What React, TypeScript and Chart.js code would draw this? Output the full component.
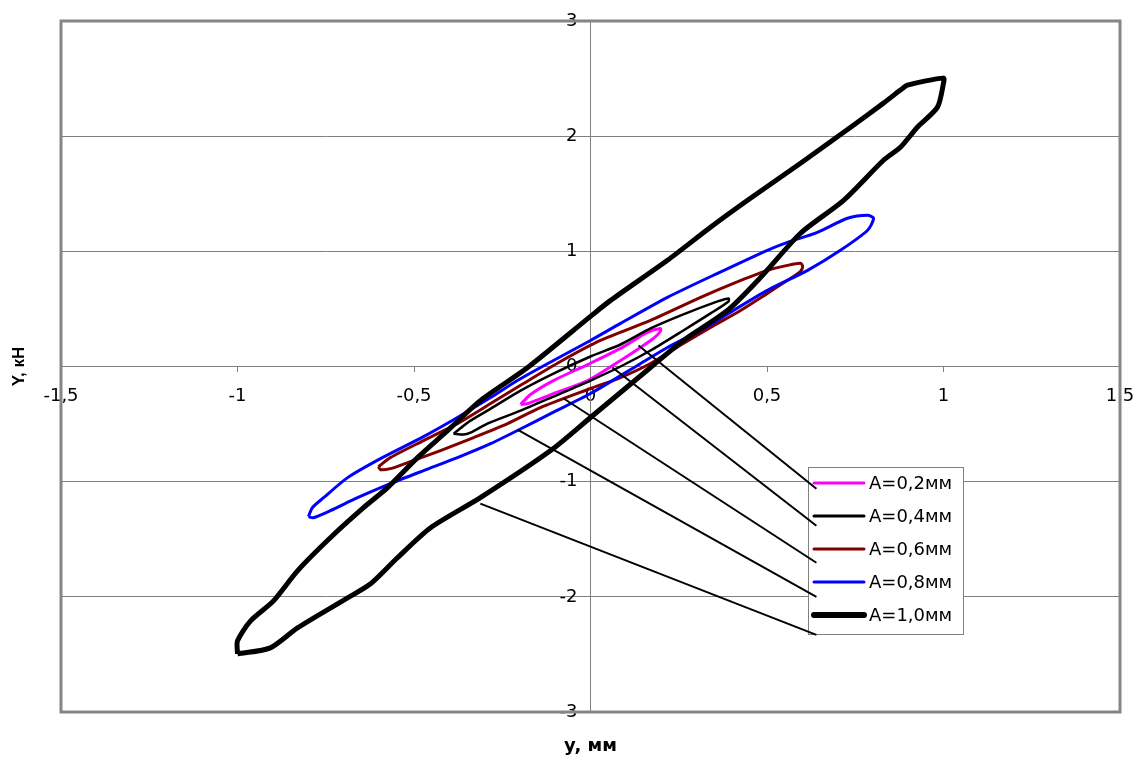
import React, { useEffect, useRef } from 'react';
import { Chart, registerables } from 'chart.js';

Chart.register(...registerables);

// ---------- data ----------
const seriesLabels = ['A=0,2мм', 'A=0,4мм', 'A=0,6мм', 'A=0,8мм', 'A=1,0мм'];
const seriesColors = ['#FF00FF', '#000000', '#800000', '#0000FF', '#000000'];
const seriesWidths = [3, 2.5, 3, 3, 5];

const a02X = [-0.198, -0.17, -0.105, -0.008, 0.085, 0.161, 0.198, 0.198, 0.178, 0.133, 0.085, -0.008, -0.105, -0.178, -0.198];
const a02Y = [-0.33, -0.243, -0.122, 0.017, 0.157, 0.296, 0.33, 0.304, 0.243, 0.148, 0.052, -0.122, -0.235, -0.322, -0.33];

const a04X = [-0.388, -0.34, -0.292, -0.198, -0.105, 0, 0.085, 0.17, 0.263, 0.36, 0.391, 0.391, 0.34, 0.263, 0.17, 0.085, 0, -0.105, -0.198, -0.292, -0.34, -0.36, -0.388];
const a04Y = [-0.583, -0.47, -0.383, -0.209, -0.061, 0.087, 0.191, 0.33, 0.452, 0.565, 0.591, 0.565, 0.461, 0.313, 0.139, 0, -0.122, -0.261, -0.383, -0.496, -0.574, -0.591, -0.583];

const a06X = [-0.601, -0.567, -0.473, -0.377, -0.283, -0.19, -0.085, 0.028, 0.17, 0.312, 0.405, 0.501, 0.558, 0.595, 0.601, 0.595, 0.558, 0.501, 0.425, 0.34, 0.263, 0.17, 0.085, 0, -0.142, -0.235, -0.331, -0.425, -0.518, -0.567, -0.595, -0.601];
const a06Y = [-0.87, -0.791, -0.643, -0.496, -0.322, -0.148, 0.043, 0.226, 0.4, 0.6, 0.722, 0.835, 0.878, 0.896, 0.87, 0.826, 0.748, 0.635, 0.487, 0.339, 0.2, 0.026, -0.096, -0.191, -0.357, -0.496, -0.617, -0.73, -0.835, -0.887, -0.896, -0.87];

const a08X = [-0.799, -0.788, -0.756, -0.688, -0.595, -0.473, -0.377, -0.283, -0.207, -0.105, 0, 0.085, 0.218, 0.36, 0.501, 0.558, 0.643, 0.728, 0.785, 0.802, 0.785, 0.708, 0.615, 0.501, 0.405, 0.312, 0.218, 0.142, 0, -0.113, -0.19, -0.283, -0.377, -0.473, -0.567, -0.66, -0.737, -0.785, -0.799];
const a08Y = [-1.304, -1.226, -1.139, -0.965, -0.8, -0.609, -0.443, -0.27, -0.122, 0.052, 0.226, 0.374, 0.6, 0.809, 1.009, 1.078, 1.165, 1.287, 1.313, 1.287, 1.183, 1.009, 0.835, 0.661, 0.487, 0.313, 0.165, 0.026, -0.235, -0.409, -0.53, -0.67, -0.791, -0.904, -1.017, -1.139, -1.252, -1.313, -1.304];

const a10X = [-1.0, -1.0, -0.963, -0.898, -0.83, -0.737, -0.643, -0.575, -0.49, -0.405, -0.312, -0.178, 0, 0.057, 0.218, 0.34, 0.445, 0.595, 0.737, 0.83, 0.878, 0.898, 1.0, 1.0, 0.983, 0.926, 0.878, 0.83, 0.717, 0.595, 0.482, 0.388, 0.263, 0.17, 0, -0.113, -0.312, -0.453, -0.547, -0.623, -0.688, -0.83, -0.907, -1.0];
const a10Y = [-2.496, -2.383, -2.209, -2.035, -1.774, -1.487, -1.226, -1.052, -0.791, -0.557, -0.296, -0.009, 0.435, 0.574, 0.922, 1.209, 1.443, 1.765, 2.078, 2.287, 2.4, 2.443, 2.504, 2.461, 2.252, 2.078, 1.904, 1.791, 1.443, 1.157, 0.774, 0.487, 0.226, -0.009, -0.443, -0.73, -1.139, -1.4, -1.661, -1.887, -2.009, -2.27, -2.443, -2.496];

const leaderFromX = [0.136, 0.062, -0.076, -0.207, -0.312];
const leaderFromY = [0.183, -0.009, -0.278, -0.548, -1.191];
const leaderToX = [0.64, 0.64, 0.64, 0.64, 0.64];
const leaderToY = [-1.061, -1.383, -1.704, -2.0, -2.33];

const xTickValues = [-1.5, -1, -0.5, 0, 0.5, 1, 1.5];
const xTickLabels = ['-1,5', '-1', '-0,5', '0', '0,5', '1', '1,5'];
const yTickValues = [-3, -2, -1, 0, 1, 2, 3];
const yTickLabels = ['-3', '-2', '-1', '0', '1', '2', '3'];

const xTitle = 'y, мм';
const yTitle = 'Y, кН';

// ---------- helpers ----------
const seriesX = [a02X, a04X, a06X, a08X, a10X];
const seriesY = [a02Y, a04Y, a06Y, a08Y, a10Y];

const toPoints = (xs: number[], ys: number[]) => xs.map((x, i) => ({ x, y: ys[i] }));

// Put the y axis (drawn by Chart.js) on the x = 0 line.
const yAxisAtZeroPlugin = {
  id: 'yAxisAtZero',
  afterLayout(chart: any) {
    const ys = chart.scales.y;
    const xs = chart.scales.x;
    const px = xs.getPixelForValue(0);
    ys.left = px - 80;
    ys.right = px;
    ys.width = 80;
  },
};

const decorPlugin = {
  id: 'decor',
  beforeDatasetsDraw(chart: any) {
    const { ctx, chartArea: a } = chart;
    ctx.save();
    // plot frame
    ctx.strokeStyle = '#868686';
    ctx.lineWidth = 3;
    ctx.strokeRect(a.left, a.top, a.right - a.left, a.bottom - a.top);
    // legend box
    const lx = a.left + 747;
    const ly = a.top + 446;
    const lw = 155;
    const lh = 167;
    ctx.fillStyle = '#ffffff';
    ctx.fillRect(lx, ly, lw, lh);
    ctx.strokeStyle = '#808080';
    ctx.lineWidth = 1;
    ctx.strokeRect(lx + 0.5, ly + 0.5, lw, lh);
    seriesLabels.forEach((lab, i) => {
      const cy = ly + 16 + i * 33;
      ctx.strokeStyle = seriesColors[i];
      ctx.lineWidth = i === 4 ? 6 : 3;
      ctx.lineCap = 'round';
      ctx.beginPath();
      ctx.moveTo(lx + 6, cy);
      ctx.lineTo(lx + 56, cy);
      ctx.stroke();
      ctx.fillStyle = '#000';
      ctx.font = '18px "DejaVu Sans"';
      ctx.textBaseline = 'middle';
      ctx.textAlign = 'left';
      ctx.fillText(lab, lx + 61, cy + 1);
    });
    // axis titles
    ctx.fillStyle = '#000';
    ctx.font = 'bold 18px "DejaVu Sans"';
    ctx.textAlign = 'center';
    ctx.textBaseline = 'middle';
    ctx.fillText(xTitle, (a.left + a.right) / 2, a.bottom + 34);
    ctx.save();
    ctx.translate(19, (a.top + a.bottom) / 2);
    ctx.rotate(-Math.PI / 2);
    ctx.font = 'bold 17px "Liberation Sans"';
    ctx.fillText(yTitle, 0, 0);
    ctx.restore();
    ctx.restore();
  },
};

export default function App() {
  const ref = useRef<HTMLCanvasElement>(null);

  useEffect(() => {
    if (!ref.current) return;
    const loopSets = seriesLabels.map((lab, i) => ({
      label: lab,
      data: toPoints(seriesX[i], seriesY[i]),
      borderColor: seriesColors[i],
      backgroundColor: seriesColors[i],
      borderWidth: seriesWidths[i],
      showLine: true,
      pointRadius: 0,
      tension: 0.25,
      fill: false,
      order: 4 - i + 1,
    }));
    const leaderSets = leaderFromX.map((x, i) => ({
      label: 'leader' + i,
      data: [
        { x, y: leaderFromY[i] },
        { x: leaderToX[i], y: leaderToY[i] },
      ],
      borderColor: '#000000',
      backgroundColor: '#000000',
      borderWidth: 2,
      showLine: true,
      pointRadius: 0,
      tension: 0,
      fill: false,
      order: 0,
    }));

    const tickFont = { family: 'DejaVu Sans', size: 18 };

    const chart = new Chart(ref.current, {
      type: 'scatter',
      data: { datasets: [...loopSets, ...leaderSets] as any },
      options: {
        responsive: false,
        animation: false,
        layout: { padding: { left: 61, top: 21, right: 21, bottom: 50 } },
        plugins: {
          legend: { display: false },
          tooltip: { enabled: false },
          title: { display: false },
        },
        scales: {
          x: {
            type: 'linear',
            min: -1.5,
            max: 1.5,
            position: { y: 0 } as any,
            afterFit: (s: any) => {
              s.height = 0;
              s.paddingLeft = 0;
              s.paddingRight = 0;
            },
            afterBuildTicks: (s: any) => {
              s.ticks = xTickValues.map((v) => ({ value: v }));
            },
            ticks: {
              callback: (v: any) => xTickLabels[xTickValues.indexOf(Number(v))] ?? '',
              font: tickFont,
              color: '#000',
              padding: 14,
              maxRotation: 0,
              autoSkip: false,
            },
            grid: { drawOnChartArea: false, color: '#808080', tickLength: 5 },
            border: { color: '#808080', width: 1 },
          },
          y: {
            type: 'linear',
            min: -3,
            max: 3,
            position: 'left',
            afterFit: (s: any) => {
              s.width = 0;
              s.paddingTop = 0;
              s.paddingBottom = 0;
            },
            afterBuildTicks: (s: any) => {
              s.ticks = yTickValues.map((v) => ({ value: v }));
            },
            ticks: {
              callback: (v: any) => yTickLabels[yTickValues.indexOf(Number(v))] ?? '',
              font: tickFont,
              color: '#000',
              padding: 8,
              autoSkip: false,
            },
            grid: { color: '#808080', tickLength: 5, lineWidth: 1 },
            border: { color: '#808080', width: 1 },
          },
        },
      },
      plugins: [yAxisAtZeroPlugin, decorPlugin],
    } as any);
    return () => chart.destroy();
  }, []);

  return (
    <div style={{ position: 'absolute', left: 0, top: 0, width: 1141, height: 762, background: '#fff' }}>
      <canvas ref={ref} width={1141} height={762} />
    </div>
  );
}
